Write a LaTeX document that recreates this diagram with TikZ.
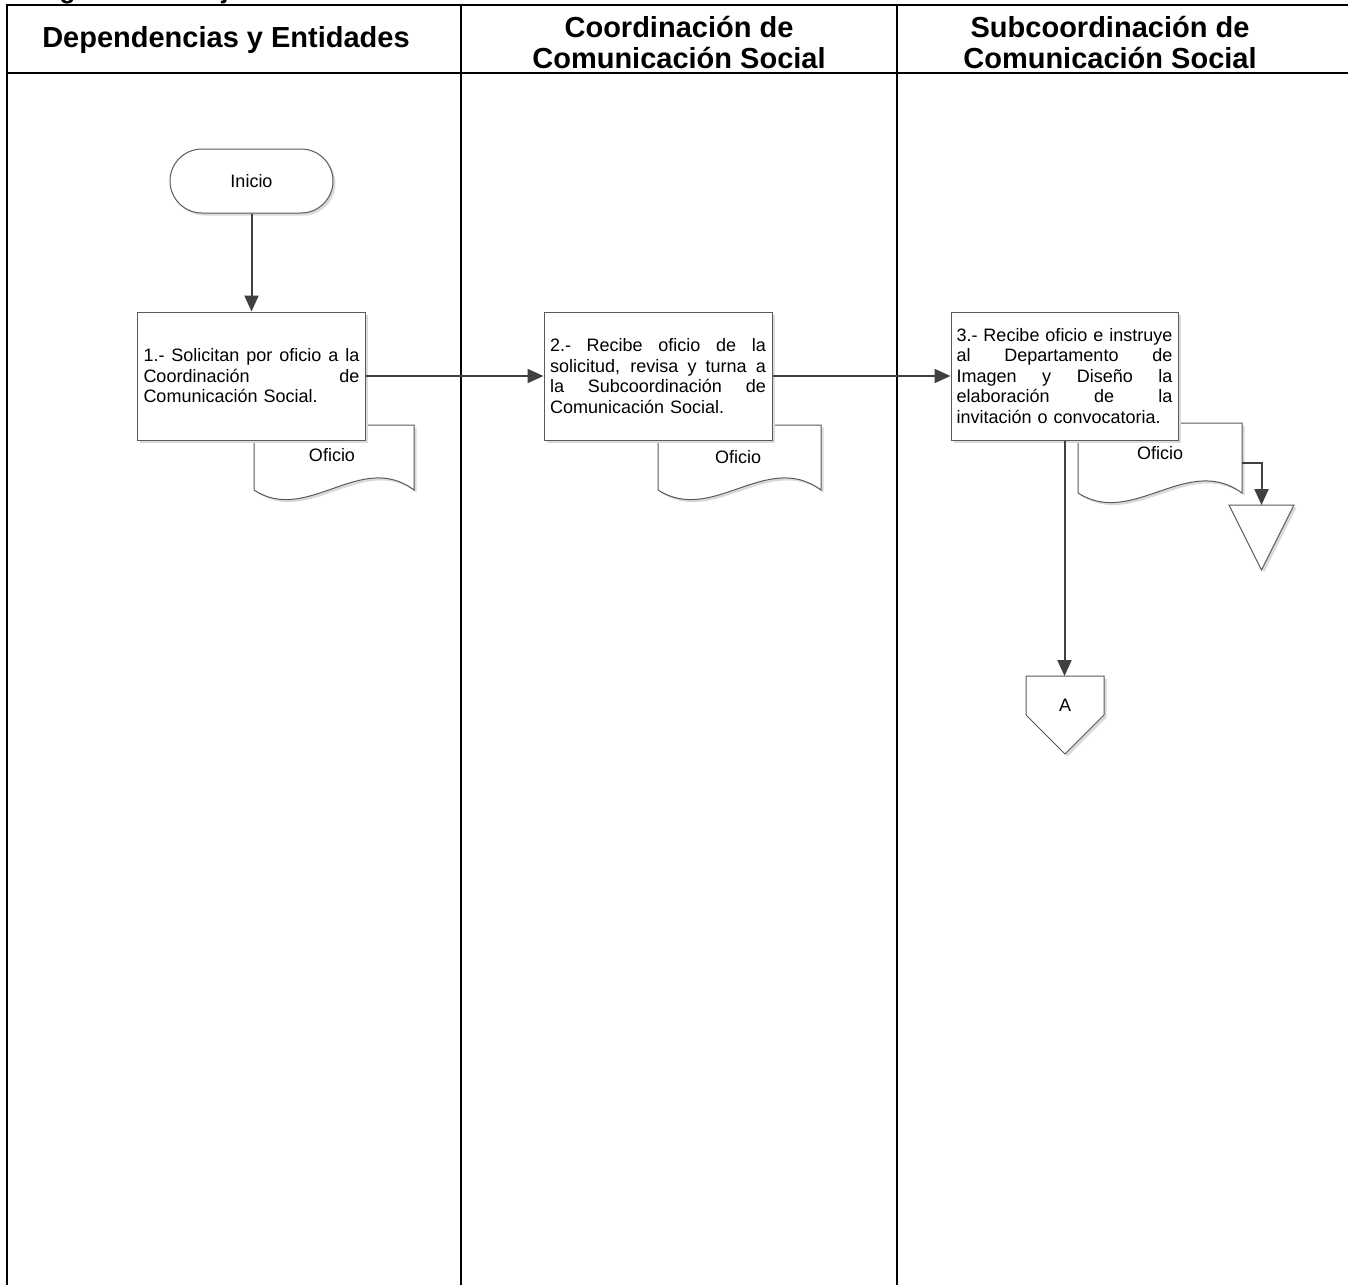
\documentclass[tikz,border=0pt]{standalone}
\usepackage{fontspec}
\setmainfont{Liberation Sans}
\usetikzlibrary{arrows.meta,shadows}
\definecolor{conncol}{HTML}{404040}
\definecolor{edgecol}{HTML}{5A5A5A}
\definecolor{shdcol}{HTML}{DADADA}
\newcommand\jl[1]{{\spaceskip=0pt\xspaceskip=0pt\makebox[216pt][s]{#1}}}
\newcommand\docu[4]{%
 \begin{scope}[shift={(2.5,2.5)}]
  \fill[shdcol] (#1,#3) -- (#2,#3) -- (#2,#4) .. controls ({#1+2*(#2-#1)/3},{#4-40}) and ({#1+(#2-#1)/3},{#4+35}) .. (#1,#4) -- cycle;
 \end{scope}
 \filldraw[fill=white,draw=edgecol,line width=1pt] (#1,#3) -- (#2,#3) -- (#2,#4) .. controls ({#1+2*(#2-#1)/3},{#4-40}) and ({#1+(#2-#1)/3},{#4+35}) .. (#1,#4) -- cycle;}
\begin{document}
\begin{tikzpicture}[x=1pt,y=-1pt,
 frame/.style={line width=2.5pt,draw=black},
 proc/.style={draw=edgecol,line width=1pt,fill=white,rectangle,inner sep=0pt,
   minimum width=228pt,minimum height=128pt,text width=216pt,align=left,
   font=\fontsize{18}{20.5}\selectfont,
   drop shadow={shadow xshift=2.5pt,shadow yshift=-2.5pt,fill=shdcol,opacity=1}},
 termin/.style={draw=edgecol,line width=1pt,fill=white,rectangle,rounded corners=32pt,
   minimum width=163pt,minimum height=64pt,inner sep=0pt,font=\fontsize{18}{20.5}\selectfont,
   drop shadow={shadow xshift=2.5pt,shadow yshift=-2.5pt,fill=shdcol,opacity=1}},
 conn/.style={draw=conncol,line width=2pt,-{Triangle[length=16pt,width=14pt]}},
 lbl/.style={font=\fontsize{18}{20.5}\selectfont,inner sep=0pt},
 hdr/.style={font=\fontsize{29}{31}\selectfont\bfseries,inner sep=0pt,anchor=base},
]
\useasboundingbox (0,0) rectangle (1348,1285);
\fill[white] (0,0) rectangle (1348,1285);
% title, cut off at the top edge as in the reference
\begin{scope}
 \clip (0,0) rectangle (1348,1285);
 \node[anchor=base west,inner sep=0pt,font=\fontsize{26}{28}\selectfont\bfseries] (title) at (19,-1.5) {Diagrama de Flujo};
\end{scope}
% frame
\draw[frame] (7,5) -- (1348,5);
\draw[frame] (7,73) -- (1348,73);
\draw[frame] (7,3.75) -- (7,1285);
\draw[frame] (461,5) -- (461,1285);
\draw[frame] (897,5) -- (897,1285);
% headers
\node[hdr] (h1) at (226,47) {Dependencias y Entidades};
\node[hdr] (h2a) at (679,37) {Coordinación de};
\node[hdr] (h2b) at (679,68) {Comunicación Social};
\node[hdr] (h3a) at (1110,37) {Subcoordinación de};
\node[hdr] (h3b) at (1110,68) {Comunicación Social};
% documents (behind boxes)
\docu{254}{414}{425}{490}
\docu{658}{821}{425}{490}
\docu{1078}{1242}{423}{493}
\node[lbl] (o1) at (332,455) {Oficio};
\node[lbl] (o2) at (738,457) {Oficio};
\node[lbl] (o3) at (1160,453) {Oficio};
\coordinate (d3r) at (1242,463);
% start
\node[termin] (inicio) at (251.5,181) {Inicio};
% process boxes
\node[proc] (b1) at (251.5,376) {\jl{1.- Solicitan por oficio a la}\\\jl{Coordinación de}\\Comunicación Social.};
\node[proc] (b2) at (658,376) {\jl{2.- Recibe oficio de la}\\\jl{solicitud, revisa y turna a}\\\jl{la Subcoordinación de}\\Comunicación Social.};
\node[proc,minimum width=227pt] (b3) at (1064.5,376) {\jl{3.- Recibe oficio e instruye}\\\jl{al Departamento de}\\\jl{Imagen y Diseño la}\\\jl{elaboración de la}\\invitación o convocatoria.};
% off-page triangle (archive)
\begin{scope}[shift={(2.5,2.5)}]
 \fill[shdcol] (1229,505) -- (1294,505) -- (1261.5,570) -- cycle;
\end{scope}
\filldraw[fill=white,draw=edgecol,line width=1pt] (1229,505) -- (1294,505) -- (1261.5,570) -- cycle;
\coordinate (ttop) at (1261.5,505);
% connector A
\begin{scope}[shift={(2.5,2.5)}]
 \fill[shdcol] (1026,676) -- (1104,676) -- (1104,715) -- (1065,754) -- (1026,715) -- cycle;
\end{scope}
\filldraw[fill=white,draw=edgecol,line width=1pt] (1026,676) -- (1104,676) -- (1104,715) -- (1065,754) -- (1026,715) -- cycle;
\node[lbl] (A) at (1065,705) {A};
\coordinate (Atop) at (1064.5,676);
% connectors
\draw[conn] (inicio.south) -- (b1.north);
\draw[conn] (b1.east) -- (b2.west);
\draw[conn] (b2.east) -- (b3.west);
\draw[conn] (b3.south) -- (Atop);
\draw[conn] (d3r) -| (ttop);
\end{tikzpicture}
\end{document}
